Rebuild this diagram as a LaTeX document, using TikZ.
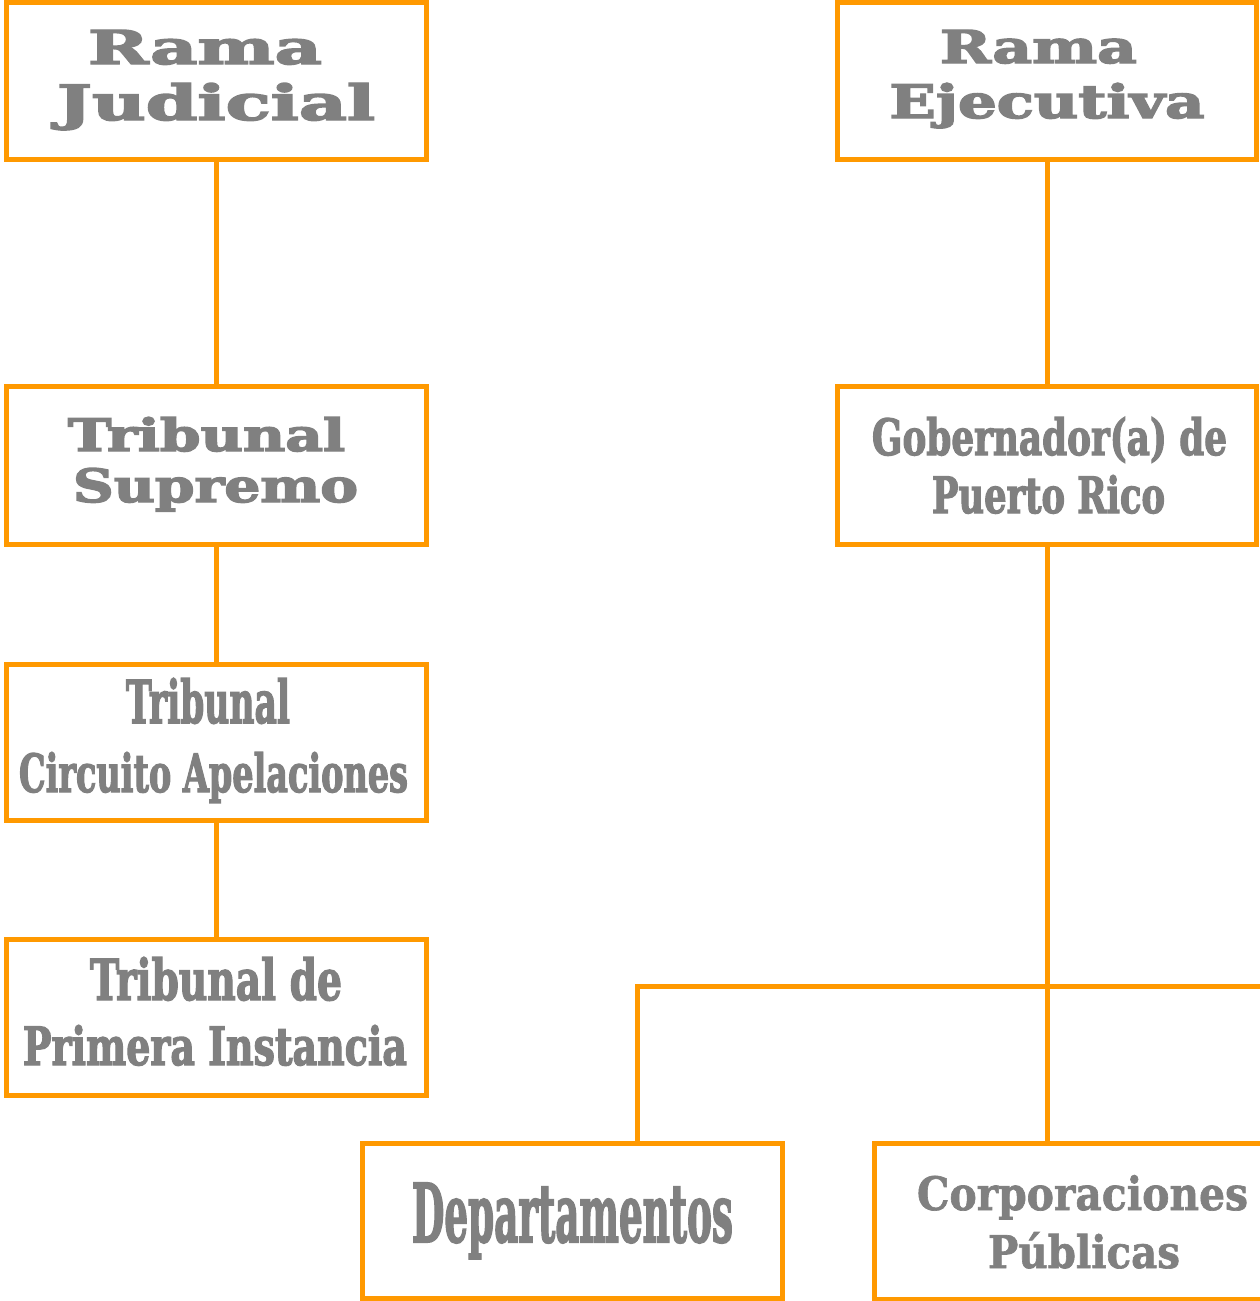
\documentclass[tikz,border=0pt]{standalone}
\usepackage{fontspec}
\setmainfont{DejaVu Serif}
\newfontfamily\widef{DejaVu Serif Bold}[FakeBold=3]
\newfontfamily\condf{DejaVu Serif Condensed Bold}[FakeBold=2.5]
\newfontfamily\corpf{DejaVu Serif Bold}[FakeBold=1.5]
\definecolor{org}{HTML}{FF9900}
\definecolor{txt}{HTML}{808080}
\newcommand{\fitw}[3]{\resizebox{#1pt}{#2pt}{#3}}
\tikzset{
  box/.style={draw=org, line width=5pt, rectangle, inner sep=0pt, outer sep=0pt},
  link/.style={draw=org, line width=5pt},
  wtxt/.style={anchor=base, inner sep=0pt, text=txt, font=\widef},
  ctxt/.style={anchor=base, inner sep=0pt, text=txt, font=\condf},
  ptxt/.style={anchor=base, inner sep=0pt, text=txt, font=\corpf}
}
\begin{document}
\begin{tikzpicture}[x=1pt,y=-1pt]
\useasboundingbox (0,0) rectangle (1260,1301);
\clip (0,0) rectangle (1260,1301);
\fill[white] (0,0) rectangle (1260,1301);

% boxes
\node[box, minimum width=420pt, minimum height=157pt] (rj) at (216.5,81) {};
\node[box, minimum width=419pt, minimum height=157pt] (re) at (1047,81) {};
\node[box, minimum width=420pt, minimum height=158pt] (ts) at (216.5,465.5) {};
\node[box, minimum width=419pt, minimum height=158pt] (gob) at (1047,465.5) {};
\node[box, minimum width=420pt, minimum height=156pt] (tca) at (216.5,742.5) {};
\node[box, minimum width=420pt, minimum height=156pt] (tpi) at (216.5,1017.5) {};
\node[box, minimum width=420pt, minimum height=155pt] (dep) at (572.5,1221) {};
\node[box, minimum width=420pt, minimum height=156pt] (corp) at (1084.5,1221) {};

% connectors
\coordinate (j) at (637.5,986);
\coordinate (hr) at (1300,986);
\draw[link] (rj.south) -- (ts.north);
\draw[link] (ts.south) -- (tca.north);
\draw[link] (tca.south) -- (tpi.north);
\draw[link] (re.south) -- (gob.north);
\draw[link] (gob.south) -- (corp.north -| gob.south);
\draw[link] (dep.north -| j) -- (j) -- (hr);

% texts
\node[wtxt] (rj1) at (205,64) {\fitw{234}{34}{Rama}};
\node[wtxt] (rj2) at (216,120) {\fitw{318}{37}{Judicial}};
\node[wtxt] (re1) at (1038.5,63) {\fitw{197}{33}{Rama}};
\node[wtxt] (re2) at (1047,118) {\fitw{315}{35}{Ejecutiva}};
\node[wtxt] (ts1) at (206.5,451) {\fitw{277}{34}{Tribunal}};
\node[wtxt] (ts2) at (215.5,502) {\fitw{285}{34}{Supremo}};
\node[ctxt] (gob1) at (1049.5,455) {\fitw{355}{38}{Gobernador(a) de}};
\node[ctxt] (gob2) at (1048.5,513) {\fitw{233}{38}{Puerto Rico}};
\node[ctxt] (tca1) at (208,723) {\fitw{164}{45}{Tribunal}};
\node[ctxt] (tca2) at (213.5,792) {\fitw{389}{40}{Circuito Apelaciones}};
\node[ctxt] (tpi1) at (216,1000) {\fitw{252}{43}{Tribunal de}};
\node[ctxt] (tpi2) at (215,1065) {\fitw{384}{40}{Primera Instancia}};
\node[ctxt] (dep1) at (572.5,1242) {\fitw{321}{59}{Departamentos}};
\node[ptxt] (corp1) at (1082.5,1210) {\fitw{331}{35}{Corporaciones}};
\node[ptxt] (corp2) at (1084,1268) {\fitw{192}{36}{Públicas}};
\end{tikzpicture}
\end{document}
